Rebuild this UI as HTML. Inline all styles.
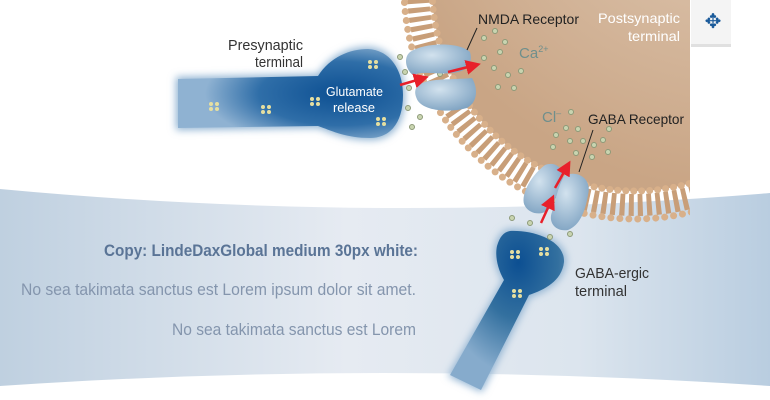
<!DOCTYPE html>
<html><head><meta charset="utf-8"><style>
html,body{margin:0;padding:0;background:#fff;}
svg{display:block;font-family:"Liberation Sans Narrow","Liberation Sans",sans-serif;}
</style></head><body>
<svg width="770" height="400" viewBox="0 0 770 400" xmlns="http://www.w3.org/2000/svg">
<defs>
<linearGradient id="band" x1="0" x2="1" y1="0" y2="0">
<stop offset="0" stop-color="#bfd0e0"/><stop offset="0.45" stop-color="#e6ebf2"/><stop offset="0.75" stop-color="#dce5ee"/><stop offset="1" stop-color="#b9cde0"/>
</linearGradient>
<radialGradient id="cell" cx="0.75" cy="0.1" r="0.9">
<stop offset="0" stop-color="#e3cfbb"/><stop offset="1" stop-color="#c9a585"/>
</radialGradient>
<radialGradient id="blue1" cx="0.72" cy="0.5" r="0.6">
<stop offset="0" stop-color="#0c4f92"/><stop offset="0.6" stop-color="#2f6ea8"/><stop offset="1" stop-color="#8fb2d2"/>
</radialGradient>
<radialGradient id="blue2" cx="0.6" cy="0.2" r="0.7">
<stop offset="0" stop-color="#0c4f92"/><stop offset="0.5" stop-color="#33709f"/><stop offset="1" stop-color="#86abcc"/>
</radialGradient>
<radialGradient id="rec" cx="0.4" cy="0.35" r="0.7">
<stop offset="0" stop-color="#d2e2ee"/><stop offset="1" stop-color="#7fa3c2"/>
</radialGradient>
<filter id="glow" x="-20%" y="-20%" width="140%" height="140%"><feGaussianBlur stdDeviation="4"/></filter>
<clipPath id="cc"><rect x="0" y="0" width="690" height="400"/></clipPath>
<marker id="ah" markerWidth="6" markerHeight="6" refX="4" refY="3" orient="auto"><path d="M0,0 L6,3 L0,6 z" fill="#e8202a"/></marker>
</defs>
<path d="M0,189 Q385,225 770,193 L770,386 Q385,360 0,386 Z" fill="url(#band)"/>
<g clip-path="url(#cc)">
<circle cx="635" cy="-12" r="203" fill="url(#cell)"/>
<circle cx="635" cy="-12" r="217" fill="none" stroke="#c89e78" stroke-width="22" stroke-dasharray="5 4"/>
<circle cx="635" cy="-12" r="231" fill="none" stroke="#d8b08a" stroke-width="7" stroke-dasharray="0 9" stroke-linecap="round"/>
<circle cx="635" cy="-12" r="203" fill="none" stroke="#d8b08a" stroke-width="7" stroke-dasharray="0 8" stroke-linecap="round"/>
</g>
<rect x="691" y="0" width="40" height="44" fill="#f4f4f4"/>
<rect x="691" y="44" width="40" height="3" fill="#ccc" opacity="0.6"/>
<text x="713" y="28" font-size="20" fill="#1a5a9a" text-anchor="middle" font-family="DejaVu Sans">✥</text>
<text x="598" y="23" font-size="14" fill="#fff" textLength="82" lengthAdjust="spacingAndGlyphs">Postsynaptic</text>
<text x="680" y="41" font-size="14" fill="#fff" text-anchor="end" textLength="52" lengthAdjust="spacingAndGlyphs">terminal</text>
<path d="M176,77 L318,74 C330,55 350,47 368,47 C392,48 405,70 405,95 C405,125 392,140 370,140 C345,140 330,132 318,128 L176,130 Z" fill="#8fb2d2" filter="url(#glow)"/>
<path d="M178,79 L318,76 C330,57 350,49 368,49 C390,50 403,70 403,95 C403,123 390,138 370,138 C345,138 330,130 318,126 L178,128 Z" fill="url(#blue1)"/>
<path d="M510,229 C535,228 568,240 566,262 C564,282 545,292 530,297 L482,392 L448,376 L503,280 C495,268 493,255 495,246 C498,235 503,230 510,229 Z" fill="#8fb2d2" filter="url(#glow)"/>
<path d="M510,231 C535,230 565,241 564,262 C562,281 544,290 529,295 L481,390 L450,375 L504,280 C497,268 495,255 497,246 C500,236 504,232 510,231 Z" fill="url(#blue2)"/>
<g fill="#e6dfa0">
<g transform="translate(211,104)"><circle r="2"/><circle cx="6" r="2"/><circle cy="5" r="2"/><circle cx="6" cy="5" r="2"/></g>
<g transform="translate(263,107)"><circle r="2"/><circle cx="6" r="2"/><circle cy="5" r="2"/><circle cx="6" cy="5" r="2"/></g>
<g transform="translate(312,99)"><circle r="2"/><circle cx="6" r="2"/><circle cy="5" r="2"/><circle cx="6" cy="5" r="2"/></g>
<g transform="translate(370,62)"><circle r="2"/><circle cx="6" r="2"/><circle cy="5" r="2"/><circle cx="6" cy="5" r="2"/></g>
<g transform="translate(378,119)"><circle r="2"/><circle cx="6" r="2"/><circle cy="5" r="2"/><circle cx="6" cy="5" r="2"/></g>
<g transform="translate(512,252)"><circle r="2"/><circle cx="6" r="2"/><circle cy="5" r="2"/><circle cx="6" cy="5" r="2"/></g>
<g transform="translate(541,249)"><circle r="2"/><circle cx="6" r="2"/><circle cy="5" r="2"/><circle cx="6" cy="5" r="2"/></g>
<g transform="translate(514,291)"><circle r="2"/><circle cx="6" r="2"/><circle cy="5" r="2"/><circle cx="6" cy="5" r="2"/></g>
</g>
<g fill="#c9d4b0" stroke="#8d9a78" stroke-width="1">
<circle cx="400" cy="57" r="2.5"/><circle cx="405" cy="72" r="2.5"/><circle cx="409" cy="88" r="2.5"/><circle cx="408" cy="108" r="2.5"/><circle cx="420" cy="117" r="2.5"/><circle cx="412" cy="127" r="2.5"/><circle cx="440" cy="74" r="2.5"/>
<circle cx="484" cy="38" r="2.5"/><circle cx="495" cy="31" r="2.5"/><circle cx="505" cy="42" r="2.5"/><circle cx="484" cy="58" r="2.5"/><circle cx="500" cy="52" r="2.5"/><circle cx="494" cy="68" r="2.5"/><circle cx="508" cy="75" r="2.5"/><circle cx="521" cy="71" r="2.5"/><circle cx="498" cy="87" r="2.5"/><circle cx="514" cy="88" r="2.5"/>
<circle cx="571" cy="112" r="2.5"/><circle cx="566" cy="128" r="2.5"/><circle cx="578" cy="129" r="2.5"/><circle cx="556" cy="135" r="2.5"/><circle cx="570" cy="141" r="2.5"/><circle cx="583" cy="141" r="2.5"/><circle cx="594" cy="145" r="2.5"/><circle cx="603" cy="140" r="2.5"/><circle cx="609" cy="129" r="2.5"/><circle cx="553" cy="147" r="2.5"/><circle cx="576" cy="153" r="2.5"/><circle cx="592" cy="157" r="2.5"/><circle cx="608" cy="152" r="2.5"/>
<circle cx="512" cy="218" r="2.5"/><circle cx="530" cy="223" r="2.5"/><circle cx="550" cy="237" r="2.5"/><circle cx="570" cy="234" r="2.5"/><circle cx="569" cy="214" r="2.5"/><circle cx="555" cy="200" r="2.5"/>
</g>
<path d="M410,52 C425,42 460,42 470,52 C473,62 468,70 458,72 C440,76 425,70 413,75 C406,70 403,58 410,52 Z" fill="url(#rec)"/>
<path d="M420,84 C432,78 450,80 472,78 C478,88 478,102 467,108 C450,113 425,111 418,101 C414,94 414,88 420,84 Z" fill="url(#rec)"/>
<line x1="400" y1="85" x2="424" y2="78" stroke="#e8202a" stroke-width="2.5" marker-end="url(#ah)"/>
<line x1="448" y1="72" x2="476" y2="65" stroke="#e8202a" stroke-width="2.5" marker-end="url(#ah)"/>
<line x1="477" y1="28" x2="467" y2="50" stroke="#222" stroke-width="1"/>
<path d="M545,165 C558,160 568,172 560,190 L550,208 C544,216 530,215 525,206 C520,198 528,178 545,165 Z" fill="url(#rec)"/>
<path d="M565,175 C580,170 592,180 588,195 C585,212 580,225 568,230 C555,232 548,222 552,212 C556,200 558,185 565,175 Z" fill="url(#rec)"/>
<line x1="541" y1="223" x2="552" y2="199" stroke="#e8202a" stroke-width="2.5" marker-end="url(#ah)"/>
<line x1="555" y1="188" x2="568" y2="165" stroke="#e8202a" stroke-width="2.5" marker-end="url(#ah)"/>
<line x1="593" y1="130" x2="579" y2="172" stroke="#222" stroke-width="1"/>
<text x="478" y="24" font-size="14" fill="#222" textLength="101" lengthAdjust="spacingAndGlyphs">NMDA Receptor</text>
<text x="519" y="58" font-size="15" fill="#6f8f8c">Ca<tspan font-size="9" dy="-6">2+</tspan></text>
<text x="542" y="122" font-size="15" fill="#6f8f8c">Cl<tspan font-size="9" dy="-6">–</tspan></text>
<text x="588" y="124" font-size="14" fill="#222" textLength="96" lengthAdjust="spacingAndGlyphs">GABA Receptor</text>
<text x="228" y="50" font-size="15" fill="#333" textLength="75" lengthAdjust="spacingAndGlyphs">Presynaptic</text>
<text x="303" y="67" font-size="15" fill="#333" text-anchor="end" textLength="48" lengthAdjust="spacingAndGlyphs">terminal</text>
<text x="326" y="96" font-size="13" fill="#fff" textLength="57" lengthAdjust="spacingAndGlyphs">Glutamate</text>
<text x="333" y="112" font-size="13" fill="#fff" textLength="42" lengthAdjust="spacingAndGlyphs">release</text>
<text x="575" y="278" font-size="15" fill="#333" textLength="74" lengthAdjust="spacingAndGlyphs">GABA-ergic</text>
<text x="575" y="296" font-size="15" fill="#333" textLength="52" lengthAdjust="spacingAndGlyphs">terminal</text>
<text x="104" y="256" font-size="17" fill="#5a7496" font-weight="bold" textLength="314" lengthAdjust="spacingAndGlyphs">Copy: LindeDaxGlobal medium 30px white:</text>
<text x="21" y="295" font-size="17" fill="#8495ad" textLength="395" lengthAdjust="spacingAndGlyphs">No sea takimata sanctus est Lorem ipsum dolor sit amet.</text>
<text x="172" y="335" font-size="17" fill="#8495ad" textLength="244" lengthAdjust="spacingAndGlyphs">No sea takimata sanctus est Lorem</text>
</svg>
</body></html>
